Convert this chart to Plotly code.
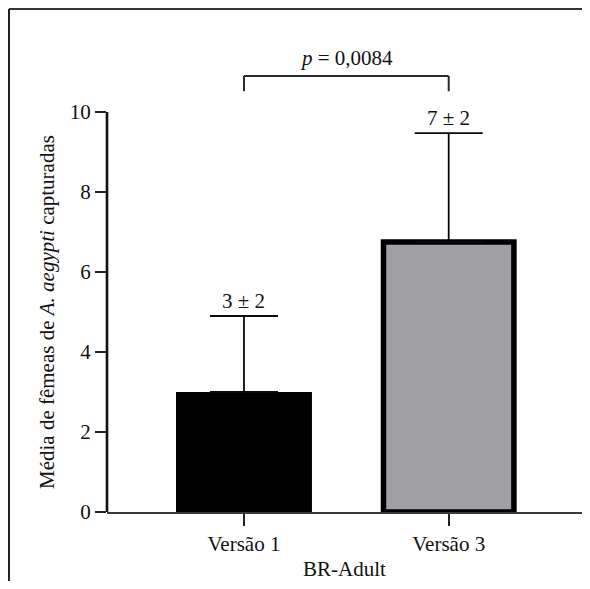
import plotly.graph_objects as go

categories = ["Versão 1", "Versão 3"]
means = [3.0, 6.75]
errors_up = [1.9, 2.72]
bar_labels = ["3 ± 2", "7 ± 2"]
bar_colors = ["#000000", "#a1a0a5"]
p_text = "<i>p</i> = 0,0084"
y_ticks = [0, 2, 4, 6, 8, 10]
y_title = "Média de fêmeas de <i>A. aegypti</i> capturadas"
x_title = "BR-Adult"

FONT = "Liberation Serif"
TXT = "#111111"
LINE = "#2a2a2a"

fig = go.Figure()
fig.add_trace(go.Bar(
    x=categories, y=means,
    width=[0.664, 0.637],
    marker=dict(color=bar_colors, line=dict(color="#000000", width=[0, 5.5])),
    error_y=dict(type="data", symmetric=False, array=errors_up,
                 arrayminus=[0, 0], color="#0a0a0a", thickness=1.8, width=34),
    showlegend=False, hoverinfo="skip",
))

annotations = []
for c, m, e, t in zip(categories, means, errors_up, bar_labels):
    annotations.append(dict(x=c, y=m + e, xref="x", yref="y", text=t,
                            showarrow=False, yanchor="bottom", yshift=1,
                            font=dict(family=FONT, size=21, color=TXT)))
annotations.append(dict(x=0.5, y=11.35, xref="x", yref="y", text=p_text,
                        showarrow=False, yanchor="middle",
                        font=dict(family=FONT, size=21, color=TXT)))
annotations.append(dict(x=-0.1263, y=5, xref="paper", yref="y", text=y_title,
                        textangle=-90, showarrow=False, xanchor="center",
                        yanchor="middle",
                        font=dict(family=FONT, size=21, color=TXT)))
annotations.append(dict(x=0.5, y=-0.114, xref="paper", yref="paper",
                        text=x_title, showarrow=False, yanchor="middle",
                        font=dict(family=FONT, size=21, color=TXT)))

shapes = [
    dict(type="line", xref="paper", yref="y", x0=0, x1=0, y0=0, y1=10,
         line=dict(color="#111111", width=2.6)),
    dict(type="line", xref="x", yref="y", x0=categories[0], x1=categories[1],
         y0=10.9, y1=10.9, line=dict(color=LINE, width=2)),
    dict(type="line", xref="x", yref="y", x0=categories[0], x1=categories[0],
         y0=10.9, y1=10.52, line=dict(color=LINE, width=2)),
    dict(type="line", xref="x", yref="y", x0=categories[1], x1=categories[1],
         y0=10.9, y1=10.52, line=dict(color=LINE, width=2)),
    dict(type="line", xref="paper", yref="paper", x0=-0.2063, x1=1.0,
         y0=1.006, y1=1.006, line=dict(color="#333333", width=2)),
    dict(type="line", xref="paper", yref="paper", x0=-0.2063, x1=-0.2063,
         y0=1.006, y1=-0.2, line=dict(color="#222222", width=2)),
]

fig.update_layout(
    width=574, height=573,
    margin=dict(l=99, r=0, t=4, b=69),
    paper_bgcolor="white", plot_bgcolor="white",
    font=dict(family=FONT, size=21, color=TXT),
    annotations=annotations, shapes=shapes,
)
fig.update_xaxes(
    type="category", range=[-0.669, 1.651],
    showline=True, linecolor="#3a3a3a", linewidth=2.2,
    ticks="outside", ticklen=12, tickwidth=2, tickcolor="#222222",
    tickfont=dict(family=FONT, size=21, color=TXT),
    showgrid=False, zeroline=False, fixedrange=True,
)
fig.update_yaxes(
    range=[0, 12.5], tickvals=y_ticks, ticktext=[str(v) for v in y_ticks],
    showline=False, ticks="outside", ticklen=11, tickwidth=2,
    tickcolor="#222222", tickfont=dict(family=FONT, size=21, color=TXT),
    showgrid=False, zeroline=False, fixedrange=True,
)

fig.write_html("out.html", config={"displayModeBar": False})
